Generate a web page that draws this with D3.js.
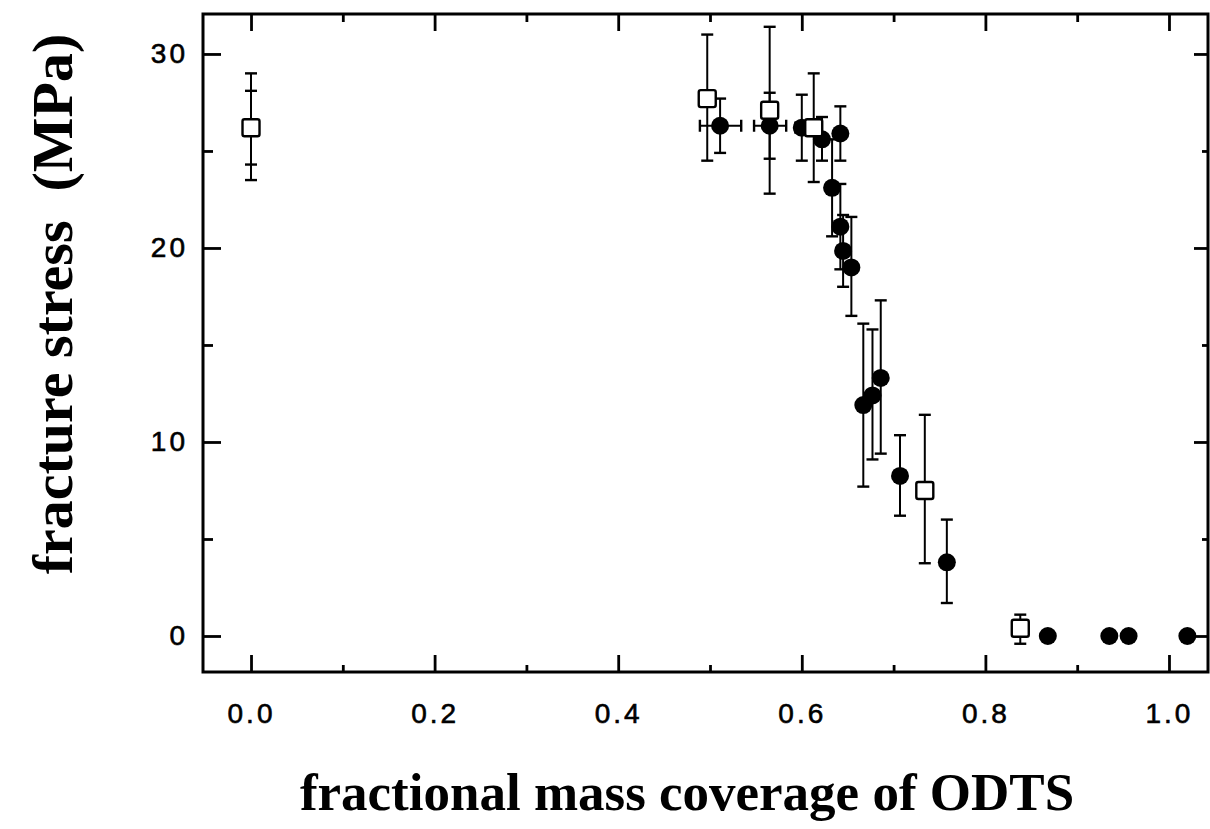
<!DOCTYPE html>
<html>
<head>
<meta charset="utf-8">
<script src="https://cdn.jsdelivr.net/npm/d3@7"></script>
<style>
  body { margin: 0; background: #ffffff; }
</style>
</head>
<body>
<div id="chart"></div>
<script>
// open squares
var sqX  = [0.0, 0.497, 0.565, 0.613, 0.734, 0.838];
var sqY  = [26.2, 27.7, 27.1, 26.2, 7.5, 0.4];
var sqLo = [23.5, 24.5, 22.8, 23.4, 3.75, -0.4];
var sqHi = [29.0, 31.0, 31.4, 29.0, 11.4, 1.1];

// filled circles
var ciX  = [0.511, 0.565, 0.600, 0.622, 0.642, 0.633, 0.642, 0.645, 0.654, 0.667, 0.677, 0.686, 0.707, 0.758, 0.868, 0.935, 0.956, 1.020];
var ciY  = [26.3, 26.3, 26.2, 25.6, 25.9, 23.1, 21.1, 19.85, 19.0, 11.9, 12.4, 13.3, 8.25, 3.8, 0, 0, 0, 0];
var ciLo = [24.9, 24.6, 24.5, 24.5, 24.5, 20.6, 18.9, 18.0, 16.5, 7.7, 9.1, 9.4, 6.2, 1.7, null, null, null, null];
var ciHi = [27.7, 28.0, 27.9, 26.75, 27.3, 25.6, 23.3, 21.7, 21.6, 16.1, 15.8, 17.3, 10.35, 6.0, null, null, null, null];
var ciXLo = [0.489, 0.548, 0.593, null, null, null, null, null, null, null, null, null, null, null, null, null, null, null];
var ciXHi = [0.534, 0.583, 0.607, null, null, null, null, null, null, null, null, null, null, null, null, null, null, null];

// second (inner) error range drawn on the first square
var extraX  = [0.0];
var extraLo = [24.3];
var extraHi = [28.1];

var xMajor = [0.0, 0.2, 0.4, 0.6, 0.8, 1.0];
var xMinor = [0.1, 0.3, 0.5, 0.7, 0.9];
var yMajor = [0, 10, 20, 30];
var yMinor = [5, 15, 25];

var width = 1210, height = 829;
var box = {left: 203, top: 14, right: 1208, bottom: 672};

var x = d3.scaleLinear().domain([-0.0523, 1.0425]).range([box.left, box.right]);
var y = d3.scaleLinear().domain([-1.856, 32.06]).range([box.bottom, box.top]);

var svg = d3.select('#chart')
    .append('svg')
    .attr('width', width)
    .attr('height', height)
    .style('font-family', '"Liberation Sans", Arial, sans-serif');

var capW = 6;

//draw vertical error bar with caps
function vBar(g, px, lo, hi, w) {
    g.append('line')
        .attr('x1', x(px)).attr('x2', x(px))
        .attr('y1', y(lo)).attr('y2', y(hi))
        .attr('stroke', '#000').attr('stroke-width', 2);
    [lo, hi].forEach(function (v) {
        g.append('line')
            .attr('x1', x(px) - w).attr('x2', x(px) + w)
            .attr('y1', y(v)).attr('y2', y(v))
            .attr('stroke', '#000').attr('stroke-width', 2.4);
    });
}

//draw horizontal error bar with caps
function hBar(g, py, lo, hi) {
    g.append('line')
        .attr('x1', x(lo)).attr('x2', x(hi))
        .attr('y1', y(py)).attr('y2', y(py))
        .attr('stroke', '#000').attr('stroke-width', 2);
    [lo, hi].forEach(function (v) {
        g.append('line')
            .attr('x1', x(v)).attr('x2', x(v))
            .attr('y1', y(py) - capW).attr('y2', y(py) + capW)
            .attr('stroke', '#000').attr('stroke-width', 2.4);
    });
}

var bars = svg.append('g').attr('class', 'errorbars');

sqX.forEach(function (d, i) { vBar(bars, d, sqLo[i], sqHi[i], capW); });
extraX.forEach(function (d, i) { vBar(bars, d, extraLo[i], extraHi[i], capW); });
ciX.forEach(function (d, i) {
    if (ciLo[i] != null) vBar(bars, d, ciLo[i], ciHi[i], capW);
    if (ciXLo[i] != null) hBar(bars, ciY[i], ciXLo[i], ciXHi[i]);
});

// filled circles
svg.append('g')
    .selectAll('circle')
    .data(ciX)
    .enter()
    .append('circle')
    .attr('cx', function (d) { return x(d); })
    .attr('cy', function (d, i) { return y(ciY[i]); })
    .attr('r', 9)
    .attr('fill', '#000');

// open squares
var sq = 17;
svg.append('g')
    .selectAll('rect')
    .data(sqX)
    .enter()
    .append('rect')
    .attr('x', function (d) { return x(d) - sq / 2; })
    .attr('y', function (d, i) { return y(sqY[i]) - sq / 2; })
    .attr('width', sq)
    .attr('height', sq)
    .attr('rx', 2)
    .attr('fill', '#fff')
    .attr('stroke', '#000')
    .attr('stroke-width', 2.4);

//axes, ticks pointing inside
function styleAxis(g) {
    g.select('.domain').remove();
    g.selectAll('.tick line').attr('stroke', '#000').attr('stroke-width', 2.8);
    g.selectAll('.tick text')
        .attr('fill', '#000')
        .attr('stroke', '#000')
        .attr('stroke-width', 0.6)
        .style('font-size', '28px')
        .style('letter-spacing', '3px');
}

var fmtX = d3.format('.1f');

svg.append('g')
    .attr('transform', 'translate(0,' + box.bottom + ')')
    .call(d3.axisBottom(x).tickValues(xMajor).tickSize(-17).tickPadding(31).tickFormat(fmtX))
    .call(styleAxis);
svg.append('g')
    .attr('transform', 'translate(0,' + box.bottom + ')')
    .call(d3.axisBottom(x).tickValues(xMinor).tickSize(-7).tickFormat(''))
    .call(styleAxis);

svg.append('g')
    .attr('transform', 'translate(0,' + box.top + ')')
    .call(d3.axisTop(x).tickValues(xMajor).tickSize(-17).tickFormat(''))
    .call(styleAxis);
svg.append('g')
    .attr('transform', 'translate(0,' + box.top + ')')
    .call(d3.axisTop(x).tickValues(xMinor).tickSize(-8).tickFormat(''))
    .call(styleAxis);

svg.append('g')
    .attr('transform', 'translate(' + box.left + ',0)')
    .call(d3.axisLeft(y).tickValues(yMajor).tickSize(-18).tickPadding(15))
    .call(styleAxis);
svg.append('g')
    .attr('transform', 'translate(' + box.left + ',0)')
    .call(d3.axisLeft(y).tickValues(yMinor).tickSize(-10).tickFormat(''))
    .call(styleAxis);

svg.append('g')
    .attr('transform', 'translate(' + box.right + ',0)')
    .call(d3.axisRight(y).tickValues(yMajor).tickSize(-14).tickFormat(''))
    .call(styleAxis);
svg.append('g')
    .attr('transform', 'translate(' + box.right + ',0)')
    .call(d3.axisRight(y).tickValues(yMinor).tickSize(-6).tickFormat(''))
    .call(styleAxis);

// frame
svg.append('rect')
    .attr('x', box.left)
    .attr('y', box.top)
    .attr('width', box.right - box.left)
    .attr('height', box.bottom - box.top)
    .attr('fill', 'none')
    .attr('stroke', '#000')
    .attr('stroke-width', 3);

// axis titles
svg.append('text')
    .attr('x', 687)
    .attr('y', 810)
    .attr('text-anchor', 'middle')
    .style('font-family', '"Liberation Serif", "Times New Roman", serif')
    .style('font-weight', 'bold')
    .style('font-size', '53px')
    .text('fractional mass coverage of ODTS');

svg.append('text')
    .attr('transform', 'translate(72,304) rotate(-90)')
    .attr('text-anchor', 'middle')
    .style('font-family', '"Liberation Serif", "Times New Roman", serif')
    .style('font-weight', 'bold')
    .style('font-size', '58px')
    .style('white-space', 'pre')
    .text('fracture stress  (MPa)');
</script>
</body>
</html>
